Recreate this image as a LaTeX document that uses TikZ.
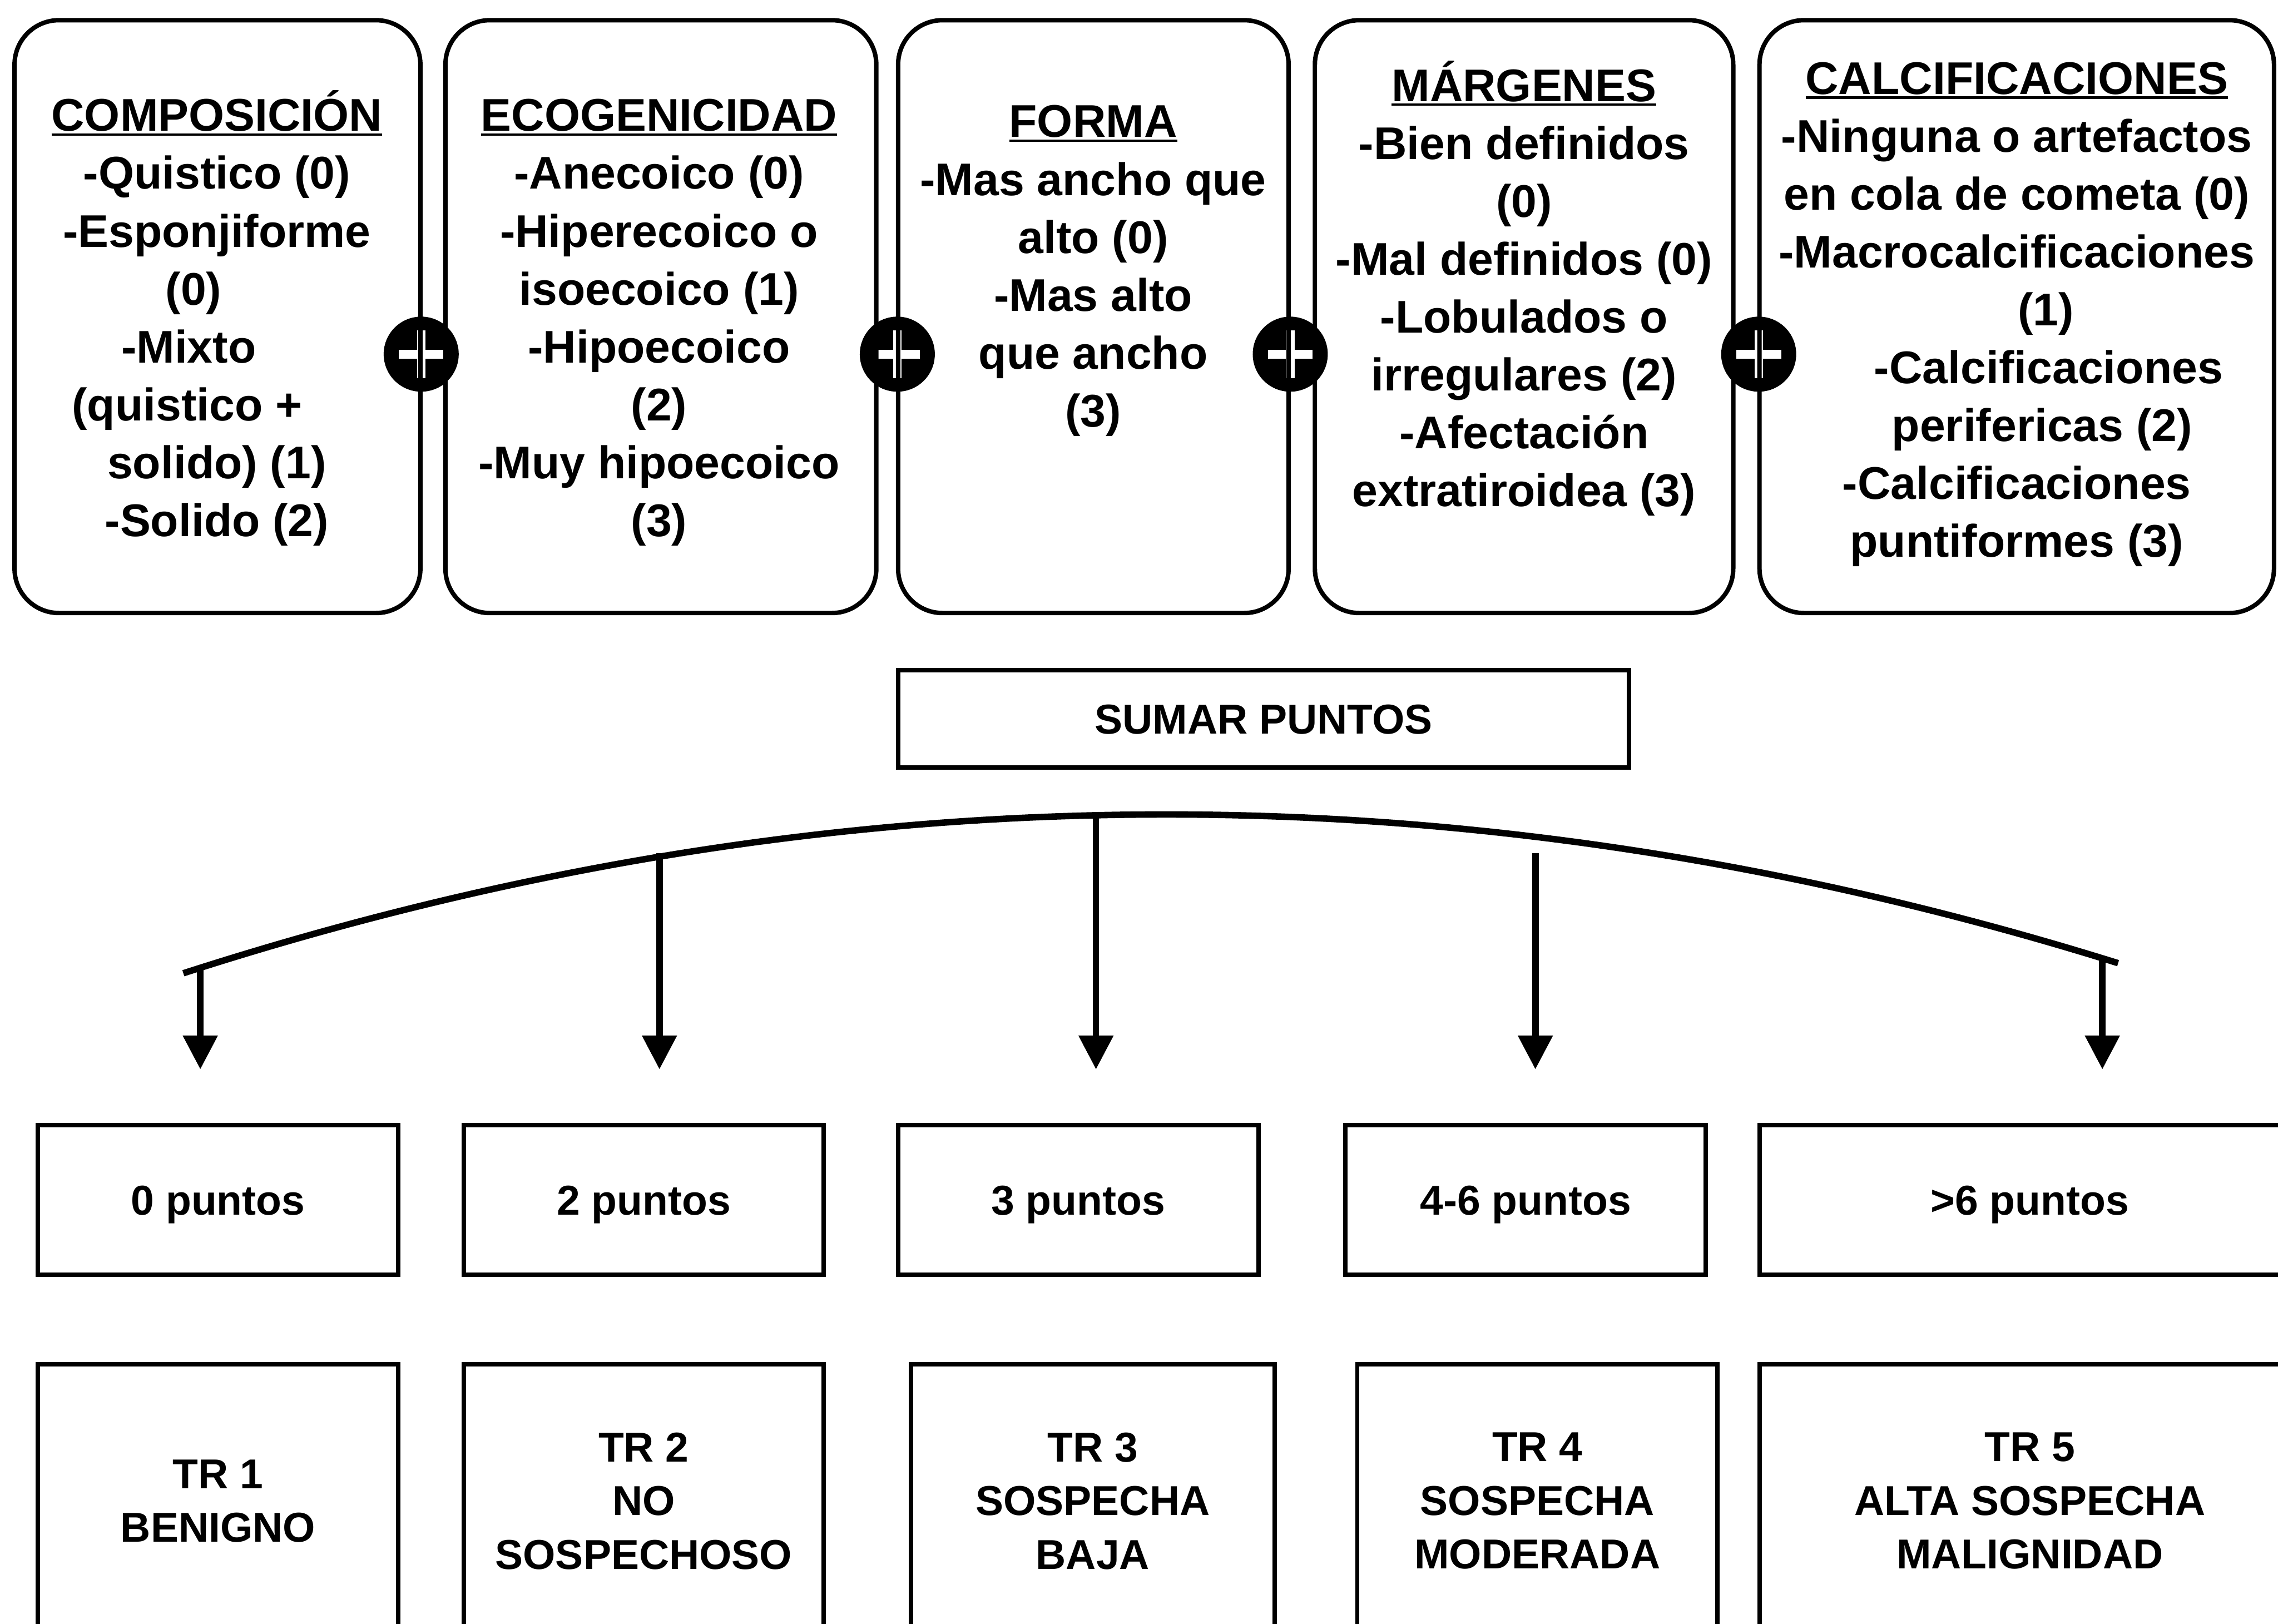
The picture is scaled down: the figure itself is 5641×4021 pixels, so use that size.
\documentclass[tikz,border=0pt]{standalone}
\usepackage{fontspec}
\setmainfont{Liberation Sans}
\usetikzlibrary{arrows.meta,fit}
\newcommand\myul[1]{\setbox0=\hbox{#1}\rlap{\rule[-0.1em]{\wd0}{0.055em}}\box0}
\newcommand\ftop{\vphantom{Á}}
\newcommand\fbot{\vphantom{(}}
\begin{document}
\begin{tikzpicture}[x=0.005cm,y=-0.005cm,
  topbox/.style={draw, line width=0.055cm, rounded corners=0.55cm, inner sep=0pt},
  box/.style={draw, line width=0.055cm, inner sep=0pt, align=center, font=\fontsize{14.72}{18.92}\selectfont\bfseries},
  sz/.style 2 args={minimum width=#1*0.005cm, minimum height=#2*0.005cm},
  onel/.style={text height=10.6pt, text depth=0pt},
  toptext/.style={align=center, inner sep=0pt, font=\fontsize{16.15}{20.41}\selectfont\bfseries},
  plusc/.style={circle, fill=black, minimum size=0.93cm, inner sep=0pt,
    path picture={
      \fill[white] ([xshift=-0.2775cm,yshift=-0.055cm]path picture bounding box.center) rectangle ([xshift=0.2775cm,yshift=0.055cm]path picture bounding box.center);
      \fill[white] ([xshift=-0.0525cm,yshift=-0.2975cm]path picture bounding box.center) rectangle ([xshift=0.0525cm,yshift=0.2975cm]path picture bounding box.center);
    }},
  conn/.style={line width=0.08cm},
  arr/.style={conn, -{Triangle[width=0.415cm,length=0.42cm]}}
]
\useasboundingbox (0,0) rectangle (5641,4021);
\fill[white] (0,0) rectangle (5641,4021);

% plus signs
\node[plusc] (p1) at (1043,877) {};
\node[plusc] (p2) at (2222,877) {};
\node[plusc] (p3) at (3195,877) {};
\node[plusc] (p4) at (4355,877) {};

% top boxes
\node[topbox, fit={(36,50) (1041,1518)}] (b1) {};
\node[topbox, fit={(1103,50) (2170,1518)}] (b2) {};
\node[topbox, fit={(2224,50) (3191,1518)}] (b3) {};
\node[topbox, fit={(3256,50) (4292,1518)}] (b4) {};
\node[topbox, fit={(4357,50) (5631,1518)}] (b5) {};

\node[toptext] (t1) at (537,788) {\ftop\myul{COMPOSICIÓN}\\-Quistico (0)\\-Esponjiforme\\(0)\kern1.02em\\-Mixto\kern1.23em\\(quistico +\kern1.3em\\solido) (1)\\-Solido (2)\fbot};
\node[toptext] (t2) at (1632,788) {\ftop\myul{ECOGENICIDAD}\\-Anecoico (0)\\-Hiperecoico o\\isoecoico (1)\\-Hipoecoico\\(2)\\-Muy hipoecoico\\(3)\fbot};
\node[toptext] (t3) at (2707,660) {\ftop\myul{FORMA}\\-Mas ancho que\\alto (0)\\-Mas alto\\que ancho\\(3)\fbot};
\node[toptext] (t4) at (3774,714) {\ftop\myul{MÁRGENES}\\-Bien definidos\\(0)\\-Mal definidos (0)\\-Lobulados o\\irregulares (2)\\-Afectación\\extratiroidea (3)\fbot};
\node[toptext] (t5) at (4994,768) {\ftop\myul{CALCIFICACIONES}\\-Ninguna o artefactos\\en cola de cometa (0)\\-Macrocalcificaciones\\\kern1.27em(1)\\\kern1.39em-Calcificaciones\\\kern1.11em perifericas (2)\\-Calcificaciones\\puntiformes (3)\fbot};

% sumar puntos
\node[box, onel, sz={1810}{241}] (sum) at (3129,1780) {SUMAR PUNTOS};

% arc and arrows
\coordinate (arcL) at (454,2410);
\coordinate (arcR) at (5245,2385);
\draw[conn] (arcL) .. controls (2051,1894) and (3648,1886) .. (arcR);
\coordinate (s1) at (496,2398);  \coordinate (e1) at (496,2648);
\coordinate (s2) at (1633,2113); \coordinate (e2) at (1633,2648);
\coordinate (s3) at (2714,2012); \coordinate (e3) at (2714,2648);
\coordinate (s4) at (3802,2113); \coordinate (e4) at (3802,2648);
\coordinate (s5) at (5206,2376); \coordinate (e5) at (5206,2648);
\draw[arr] (s1) -- (e1);
\draw[arr] (s2) -- (e2);
\draw[arr] (s3) -- (e3);
\draw[arr] (s4) -- (e4);
\draw[arr] (s5) -- (e5);

% points boxes
\node[box, onel, sz={892}{370}] (q1) at (540,2971) {0 puntos};
\node[box, onel, sz={892}{370}] (q2) at (1594,2971) {2 puntos};
\node[box, onel, sz={892}{370}] (q3) at (2670,2971) {3 puntos};
\node[box, onel, sz={892}{370}] (q4) at (3778,2971) {4-6 puntos};
\node[box, onel, sz={1339}{370}] (q5) at (5026.5,2971) {>6 puntos};

% TR boxes
\node[box, sz={892}{678}] (r1) at (540,3717) {TR 1\\BENIGNO};
\node[box, sz={892}{678}] (r2) at (1594,3717) {TR 2\\NO\\SOSPECHOSO};
\node[box, sz={900}{678}] (r3) at (2706,3717) {TR 3\\SOSPECHA\\BAJA};
\node[box, sz={892}{678}] (r4) at (3807,3717) {TR 4\\SOSPECHA\\MODERADA};
\node[box, sz={1339}{678}] (r5) at (5026.5,3717) {TR 5\\ALTA SOSPECHA\\MALIGNIDAD};
\end{tikzpicture}
\end{document}
